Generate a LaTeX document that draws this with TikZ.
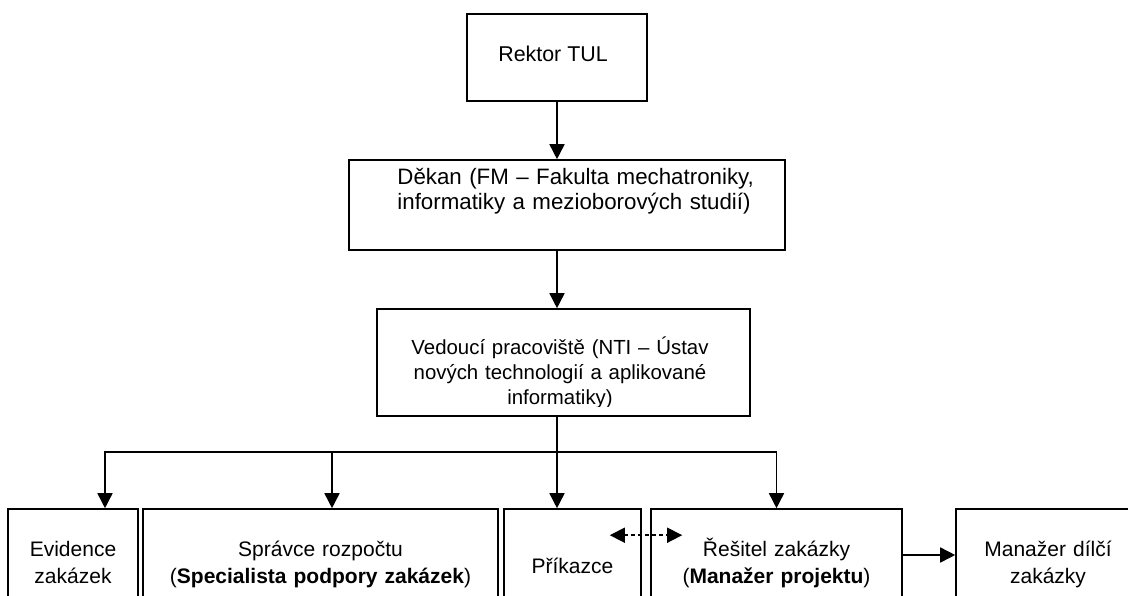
\documentclass[tikz,border=0pt]{standalone}
\usepackage{fontspec}
\setmainfont{Liberation Sans}
\usepackage{tikz}
\usetikzlibrary{arrows.meta}

\begin{document}
\begin{tikzpicture}[x=1pt,y=-1pt,
    box/.style={draw,line width=1.6pt,inner sep=0pt},
    txt/.style={inner sep=0pt,anchor=base,align=center,font=\fontsize{21}{24}\selectfont},
    bot/.style={font=\fontsize{21}{27}\selectfont},
    line/.style={line width=1.6pt},
    arr/.style={line width=1.6pt,-{Triangle[length=15pt,width=15pt]}},
    darr/.style={line width=1.6pt,dash pattern=on 4pt off 3pt,{Triangle[length=15pt,width=15pt]}-{Triangle[length=15pt,width=15pt]}}]
    \useasboundingbox (0,0) rectangle (1128,595);
    \clip (0,0) rectangle (1128,595);

    \node[box,minimum width=180pt,minimum height=87pt] (rektor) at (557,57.5) {};
    \node[box,minimum width=436pt,minimum height=90pt] (dekan) at (567,205) {};
    \node[box,minimum width=373pt,minimum height=107pt] (vedouci) at (563.5,362.5) {};
    \node[box,minimum width=130pt,minimum height=92pt] (evidence) at (73,555) {};
    \node[box,minimum width=355pt,minimum height=92pt] (spravce) at (320.5,555) {};
    \node[box,minimum width=137pt,minimum height=92pt] (prikazce) at (572.5,555) {};
    \node[box,minimum width=251pt,minimum height=92pt] (resitel) at (776.5,555) {};
    \node[box,minimum width=184pt,minimum height=92pt] (manazer) at (1048,555) {};

    \node[txt,font=\fontsize{21.4}{24}\selectfont] (rektorT) at ([xshift=-4pt,yshift=-48pt]rektor.north) {Rektor TUL};
    \node[txt,text width=420pt,align=left,anchor=base west,font=\fontsize{22.3}{25}\selectfont] (dekanT)
        at ([xshift=49pt,yshift=-25pt]dekan.north west)
        {Děkan (FM – Fakulta mechatroniky,\\informatiky a mezioborových studií)};
    \begin{scope}
        \clip (vedouci.north west) rectangle ([yshift=10.5pt]vedouci.south east);
        \node[txt,text width=360pt,font=\fontsize{20.4}{25}\selectfont] (vedouciT) at ([xshift=-3.5pt,yshift=-46pt]vedouci.north)
            {Vedoucí pracoviště (NTI – Ústav\\nových technologií a aplikované\\informatiky)};
    \end{scope}
    \node[txt,bot,text width=125pt] (evidenceT) at ([yshift=-48pt]evidence.north) {Evidence\\zakázek};
    \node[txt,bot,text width=350pt] (spravceT) at ([yshift=-48pt]spravce.north)
        {Správce rozpočtu\\(\textbf{Specialista podpory zakázek})};
    \node[txt,bot] (prikazceT) at ([yshift=-65pt]prikazce.north) {Příkazce};
    \node[txt,bot,text width=245pt] (resitelT) at ([yshift=-48pt]resitel.north)
        {Řešitel zakázky\\(\textbf{Manažer projektu})};
    \node[txt,bot,text width=180pt] (manazerT) at ([yshift=-48pt]manazer.north) {Manažer dílčí\\zakázky};

    \draw[arr] (rektor.south) -- (rektor.south |- dekan.north);
    \draw[arr] (rektor.south |- dekan.south) -- (rektor.south |- vedouci.north);
    \coordinate (bus) at (557,452);
    \draw[line] (rektor.south |- vedouci.south) -- (bus);
    \draw[arr] (bus) -| ([xshift=32pt]evidence.north);
    \draw[arr] (bus) -| ([xshift=11.5pt]spravce.north);
    \draw[arr] (bus) -- (bus |- prikazce.north);
    \draw[arr] (bus) -| (resitel.north);
    \draw[darr] ([xshift=-32pt,yshift=-27pt]prikazce.north east) -- ([xshift=32pt,yshift=-27pt]resitel.north west);
    \draw[arr] (resitel.east) -- (manazer.west);
\end{tikzpicture}
\end{document}
